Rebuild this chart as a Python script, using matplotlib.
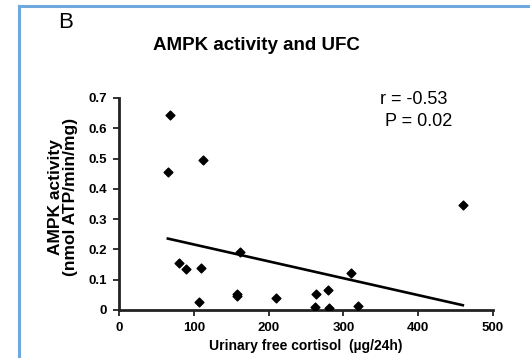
import matplotlib.pyplot as plt
from matplotlib.lines import Line2D
import numpy as np

plt.rcParams['font.family'] = ['Liberation Sans', 'DejaVu Sans']

# urinary free cortisol (ug/24h) vs AMPK activity
ufc = [65, 68, 80, 89, 109, 112, 107, 157, 158, 161, 210, 262, 264, 280, 281, 310, 320, 460]
ampk = [0.455, 0.645, 0.156, 0.134, 0.139, 0.494, 0.026, 0.046, 0.052, 0.192, 0.038, 0.009, 0.053, 0.066, 0.005, 0.121, 0.013, 0.348]

# linear fit reported on the panel
fit_slope = -0.000557
fit_intercept = 0.272
r_text = "r = -0.53"
p_text = "P = 0.02"

xticks = [0, 100, 200, 300, 400, 500]
yticks = [0, 0.1, 0.2, 0.3, 0.4, 0.5, 0.6, 0.7]
yticklabels = ['0', '0.1', '0.2', '0.3', '0.4', '0.5', '0.6', '0.7']

fig = plt.figure(figsize=(5.3, 3.58), dpi=100)
ax = fig.add_axes([0.2251, 0.1341, 0.7045, 0.5922])

ax.scatter(ufc, ampk, marker='D', s=20, color='black', zorder=3)

fx = np.array([min(ufc), max(ufc)])
ax.plot(fx, fit_intercept + fit_slope * fx, color='black', lw=1.9)

ax.set_xlim(0, 500)
ax.set_ylim(0, 0.7)
ax.set_xticks(xticks)
ax.set_xticklabels([str(t) for t in xticks], fontsize=9.5, fontweight='bold')
ax.set_yticks(yticks)
ax.set_yticklabels(yticklabels, fontsize=9.5, fontweight='bold')
ax.tick_params(axis='both', length=4, width=1.3, color='#222222', pad=5)

for side in ['top', 'right']:
    ax.spines[side].set_visible(False)
for side in ['left', 'bottom']:
    ax.spines[side].set_linewidth(2)
    ax.spines[side].set_color('#222222')

fig.text(63 / 530, 1 - 197 / 358, "AMPK activity\n(nmol ATP/min/mg)", fontsize=12.5,
         fontweight='bold', rotation=90, ha='center', va='center', multialignment='center',
         linespacing=1.0)
ax.set_xlabel("Urinary free cortisol  (\u00b5g/24h)", fontsize=10, fontweight='bold', labelpad=3)

fig.text(256 / 530, 1 - 46 / 358, "AMPK activity and UFC", fontsize=13.5, fontweight='bold',
         ha='center', va='center')
fig.text(58 / 530, 1 - 22 / 358, "B", fontsize=16, ha='left', va='center')
fig.text(380 / 530, 1 - 100 / 358, r_text, fontsize=13, ha='left', va='center')
fig.text(385 / 530, 1 - 121 / 358, p_text, fontsize=13, ha='left', va='center')

# blue panel frame along left and top edges
frame = '#6fa8dc'
fig.add_artist(Line2D([19 / 530, 19 / 530], [0, 1 - 6 / 358], color=frame, lw=2.2))
fig.add_artist(Line2D([19 / 530, 1], [1 - 6 / 358, 1 - 6 / 358], color=frame, lw=2.2))

fig.savefig("out.png", dpi=100)
